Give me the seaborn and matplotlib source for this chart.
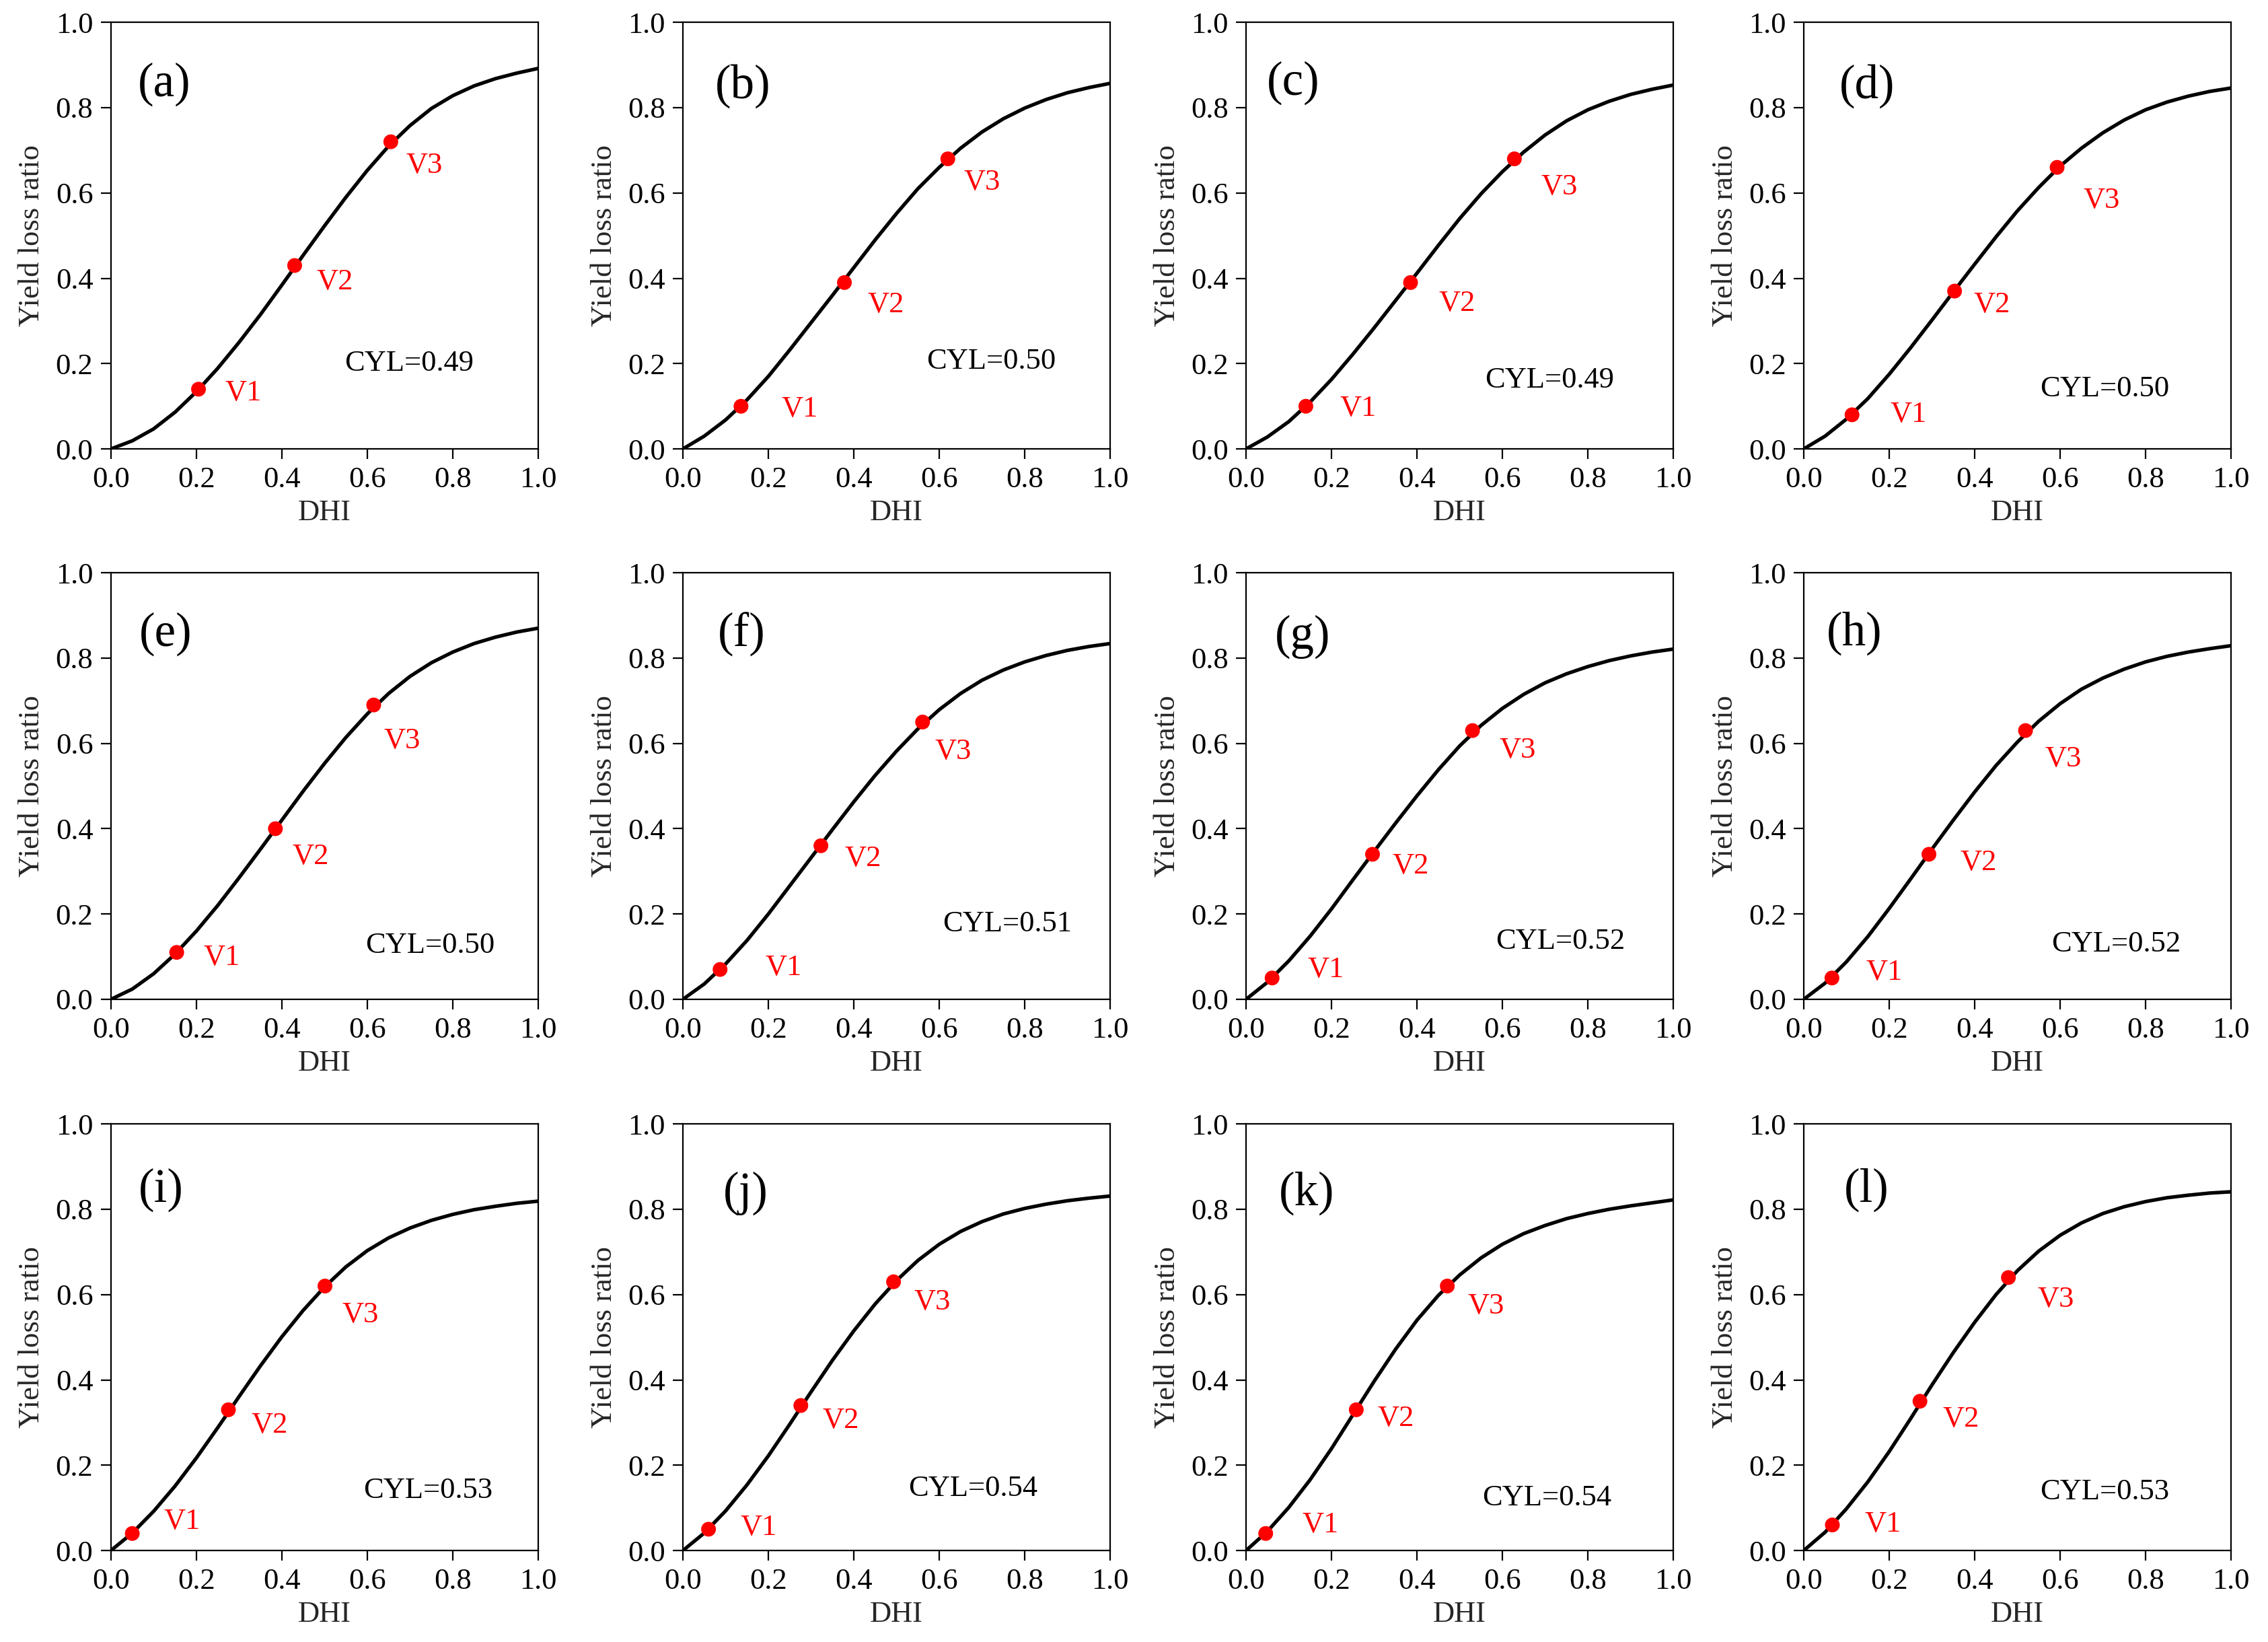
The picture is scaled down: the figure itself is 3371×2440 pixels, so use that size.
import pandas as pd
import matplotlib.pyplot as plt
import seaborn as sns

DHI = [0.00, 0.05, 0.10, 0.15, 0.20, 0.25, 0.30, 0.35, 0.40, 0.45, 0.50,
       0.55, 0.60, 0.65, 0.70, 0.75, 0.80, 0.85, 0.90, 0.95, 1.00]

# yield loss ratio curves, one per panel
YLR_A = [0.000, 0.019, 0.047, 0.086, 0.134, 0.189, 0.250, 0.315, 0.384, 0.454, 0.523,
         0.590, 0.653, 0.710, 0.758, 0.798, 0.828, 0.851, 0.868, 0.881, 0.892]
YLR_B = [0.000, 0.030, 0.068, 0.115, 0.170, 0.232, 0.296, 0.360, 0.425, 0.490, 0.552,
         0.610, 0.660, 0.705, 0.743, 0.774, 0.799, 0.819, 0.835, 0.847, 0.857]
YLR_C = [0.000, 0.028, 0.064, 0.110, 0.163, 0.222, 0.284, 0.348, 0.412, 0.477, 0.540,
         0.598, 0.650, 0.696, 0.736, 0.769, 0.795, 0.815, 0.831, 0.843, 0.853]
YLR_D = [0.000, 0.030, 0.070, 0.118, 0.175, 0.237, 0.302, 0.368, 0.433, 0.497, 0.558,
         0.613, 0.663, 0.705, 0.741, 0.771, 0.795, 0.813, 0.827, 0.838, 0.846]
YLR_E = [0.000, 0.024, 0.060, 0.106, 0.160, 0.220, 0.285, 0.352, 0.420, 0.488, 0.553,
         0.614, 0.669, 0.717, 0.757, 0.789, 0.814, 0.834, 0.849, 0.861, 0.870]
YLR_F = [0.000, 0.036, 0.083, 0.138, 0.200, 0.266, 0.332, 0.398, 0.463, 0.525, 0.582,
         0.634, 0.679, 0.717, 0.748, 0.772, 0.791, 0.806, 0.818, 0.827, 0.834]
YLR_G = [0.000, 0.040, 0.090, 0.148, 0.212, 0.280, 0.347, 0.413, 0.477, 0.538, 0.594,
         0.642, 0.682, 0.715, 0.742, 0.763, 0.780, 0.794, 0.805, 0.814, 0.821]
YLR_H = [0.000, 0.038, 0.088, 0.147, 0.213, 0.282, 0.352, 0.420, 0.486, 0.548, 0.603,
         0.652, 0.693, 0.727, 0.753, 0.774, 0.791, 0.804, 0.814, 0.822, 0.829]
YLR_I = [0.000, 0.041, 0.092, 0.151, 0.217, 0.288, 0.361, 0.433, 0.501, 0.563, 0.618,
         0.665, 0.703, 0.733, 0.756, 0.774, 0.788, 0.799, 0.807, 0.814, 0.819]
YLR_J = [0.000, 0.041, 0.093, 0.154, 0.222, 0.296, 0.372, 0.446, 0.515, 0.578, 0.633,
         0.680, 0.718, 0.748, 0.771, 0.789, 0.802, 0.812, 0.820, 0.826, 0.831]
YLR_K = [0.000, 0.045, 0.101, 0.166, 0.239, 0.318, 0.397, 0.472, 0.540, 0.598, 0.646,
         0.686, 0.718, 0.743, 0.762, 0.778, 0.790, 0.800, 0.808, 0.815, 0.822]
YLR_L = [0.000, 0.043, 0.098, 0.161, 0.232, 0.309, 0.388, 0.464, 0.535, 0.600, 0.656,
         0.702, 0.739, 0.768, 0.790, 0.806, 0.818, 0.827, 0.833, 0.838, 0.841]
CURVES = [YLR_A, YLR_B, YLR_C, YLR_D, YLR_E, YLR_F,
          YLR_G, YLR_H, YLR_I, YLR_J, YLR_K, YLR_L]

# V1, V2, V3 points per panel
V_NAMES = ["V1", "V2", "V3"]
V_DHI = [[0.205, 0.430, 0.655], [0.136, 0.378, 0.620], [0.140, 0.385, 0.628],
         [0.113, 0.353, 0.593], [0.154, 0.385, 0.615], [0.087, 0.323, 0.561],
         [0.061, 0.296, 0.530], [0.066, 0.293, 0.519], [0.050, 0.275, 0.501],
         [0.060, 0.276, 0.493], [0.046, 0.258, 0.471], [0.067, 0.272, 0.479]]
V_YLR = [[0.14, 0.43, 0.72], [0.10, 0.39, 0.68], [0.10, 0.39, 0.68],
         [0.08, 0.37, 0.66], [0.11, 0.40, 0.69], [0.07, 0.36, 0.65],
         [0.05, 0.34, 0.63], [0.05, 0.34, 0.63], [0.04, 0.33, 0.62],
         [0.05, 0.34, 0.63], [0.04, 0.33, 0.62], [0.06, 0.35, 0.64]]

PANELS = ["(a)", "(b)", "(c)", "(d)", "(e)", "(f)",
          "(g)", "(h)", "(i)", "(j)", "(k)", "(l)"]
CYL = ["0.49", "0.50", "0.49", "0.50", "0.50", "0.51",
       "0.52", "0.52", "0.53", "0.54", "0.54", "0.53"]

# layout: label offsets from points, text anchors in axes fraction
V_OFFSETS = [[(0.062, -0.009), (0.052, -0.038), (0.035, -0.056)],
             [(0.095, -0.006), (0.054, -0.053), (0.037, -0.055)],
             [(0.080, -0.005), (0.066, -0.049), (0.063, -0.066)],
             [(0.090, 0.000), (0.044, -0.033), (0.061, -0.077)],
             [(0.063, -0.012), (0.040, -0.065), (0.024, -0.085)],
             [(0.106, 0.004), (0.055, -0.031), (0.029, -0.069)],
             [(0.083, 0.019), (0.046, -0.027), (0.062, -0.046)],
             [(0.079, 0.013), (0.073, -0.020), (0.045, -0.067)],
             [(0.074, 0.028), (0.054, -0.037), (0.040, -0.067)],
             [(0.075, 0.004), (0.051, -0.035), (0.048, -0.047)],
             [(0.085, 0.020), (0.050, -0.020), (0.048, -0.047)],
             [(0.076, 0.002), (0.054, -0.043), (0.069, -0.051)]]
CYL_POS = [(0.547, 0.201), (0.570, 0.205), (0.559, 0.161), (0.553, 0.140),
           (0.596, 0.126), (0.608, 0.176), (0.584, 0.135), (0.579, 0.129),
           (0.591, 0.141), (0.528, 0.146), (0.553, 0.123), (0.553, 0.137)]
TAG_POS = [(0.063, 0.854), (0.075, 0.850), (0.049, 0.858), (0.084, 0.850),
           (0.066, 0.856), (0.081, 0.855), (0.068, 0.850), (0.053, 0.858),
           (0.064, 0.845), (0.094, 0.837), (0.077, 0.837), (0.094, 0.845)]

COL_LEFT = [0.0489, 0.3011, 0.5494, 0.7953]
ROW_BOTTOM = [0.7266, 0.3914, 0.0557]
AX_W, AX_H = 0.1884, 0.2598

sns.set_theme(style="ticks")
plt.rcParams['font.family'] = ['Liberation Serif', 'DejaVu Serif']
plt.rcParams['axes.linewidth'] = 1.6
plt.rcParams['xtick.major.width'] = 1.6
plt.rcParams['ytick.major.width'] = 1.6
plt.rcParams['xtick.major.size'] = 11
plt.rcParams['ytick.major.size'] = 11
plt.rcParams['xtick.major.pad'] = 8
plt.rcParams['ytick.major.pad'] = 8

fig = plt.figure(figsize=(33.71, 24.40), dpi=100)

for i in range(12):
    r, c = divmod(i, 4)
    ax = fig.add_axes([COL_LEFT[c], ROW_BOTTOM[r], AX_W, AX_H])

    curve = pd.DataFrame({"DHI": DHI, "YLR": CURVES[i]})
    pts = pd.DataFrame({"DHI": V_DHI[i], "YLR": V_YLR[i], "name": V_NAMES})

    sns.lineplot(data=curve, x="DHI", y="YLR", color="black", linewidth=3.8,
                 ax=ax, zorder=2, solid_joinstyle="round", solid_capstyle="round")
    sns.scatterplot(data=pts, x="DHI", y="YLR", color="#ff0000", s=250,
                    edgecolor="none", ax=ax, zorder=3)

    for j, row in pts.iterrows():
        dx, dy = V_OFFSETS[i][j]
        ax.text(row["DHI"] + dx, row["YLR"] + dy, row["name"], color="#ff0000",
                fontsize=32, ha="left", va="center")

    ax.text(*CYL_POS[i], f"CYL={CYL[i]}", transform=ax.transAxes,
            fontsize=32, ha="left", va="center", color="black")
    ax.text(*TAG_POS[i], PANELS[i], transform=ax.transAxes,
            fontsize=51, ha="left", va="center", color="black")

    ax.set_xlim(0, 1)
    ax.set_ylim(0, 1)
    ax.set_xticks([0.0, 0.2, 0.4, 0.6, 0.8, 1.0])
    ax.set_yticks([0.0, 0.2, 0.4, 0.6, 0.8, 1.0])
    ax.set_xticklabels([f"{t:.1f}" for t in ax.get_xticks()])
    ax.set_yticklabels([f"{t:.1f}" for t in ax.get_yticks()])
    ax.tick_params(axis="both", direction="out", labelsize=32, colors="black")
    ax.set_xlabel("DHI", fontsize=32, labelpad=6)
    ax.set_ylabel("Yield loss ratio", fontsize=32, labelpad=11)
    for s in ax.spines.values():
        s.set_visible(True)
        s.set_color("black")

fig.savefig("out.png", dpi=100, facecolor="white")
plt.close(fig)
